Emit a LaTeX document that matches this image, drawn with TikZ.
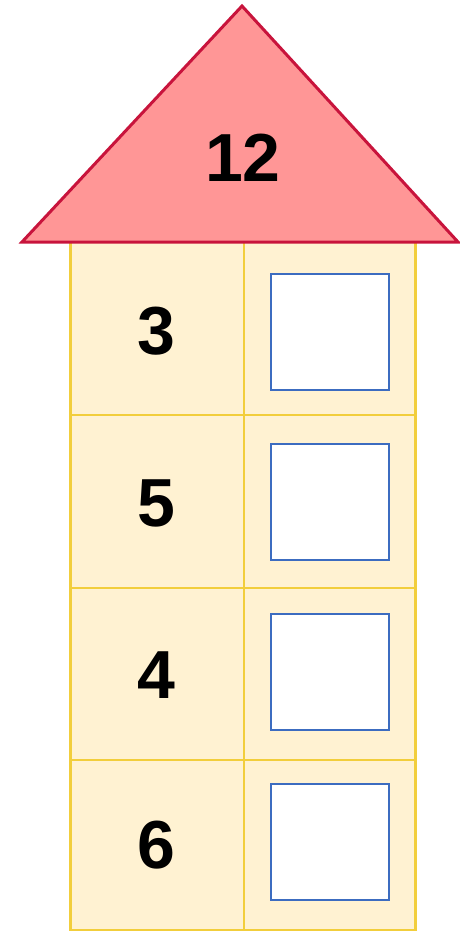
\documentclass[tikz,border=0pt]{standalone}
\usepackage{fontspec}
\setmainfont{Liberation Sans}
\definecolor{roofred}{HTML}{FF9696}
\definecolor{roofline}{HTML}{C8143C}
\definecolor{wallfill}{HTML}{FFF2D2}
\definecolor{wallline}{HTML}{F2CE3C}
\definecolor{boxblue}{HTML}{3C6CC0}
\begin{document}
\begin{tikzpicture}[x=1pt,y=-1pt,
  numtext/.style={font=\fontsize{68}{80}\selectfont\bfseries, inner sep=0pt},
  answerbox/.style={draw=boxblue, line width=1.6pt, fill=white, minimum width=118pt, minimum height=116pt, inner sep=0pt},
  outerwall/.style={draw=wallline, line width=3pt},
  innerwall/.style={draw=wallline, line width=1.6pt}]
\useasboundingbox (0,0) rectangle (460,931);
% walls
\fill[wallfill] (70,243) rectangle (415,930);
\draw[innerwall] (244,243) -- (244,930);
\draw[innerwall] (70,415) -- (415,415);
\draw[innerwall] (70,588) -- (415,588);
\draw[innerwall] (70,760) -- (415,760);
\draw[outerwall] (70,243) -- (70,930) -- (415,930) -- (415,243);
% roof
\draw[fill=roofred, draw=roofline, line width=3pt, line join=miter] (22,242) -- (242,6) -- (458,242) -- cycle;
\node[numtext] (top) at (243,158) {12};
% numbers
\node[numtext] (n1) at (156,331) {3};
\node[numtext] (n2) at (156,503) {5};
\node[numtext] (n3) at (156,675) {4};
\node[numtext] (n4) at (156,845) {6};
% boxes
\node[answerbox] (b1) at (330,332) {};
\node[answerbox] (b2) at (330,502) {};
\node[answerbox] (b3) at (330,672) {};
\node[answerbox] (b4) at (330,842) {};
\end{tikzpicture}
\end{document}
